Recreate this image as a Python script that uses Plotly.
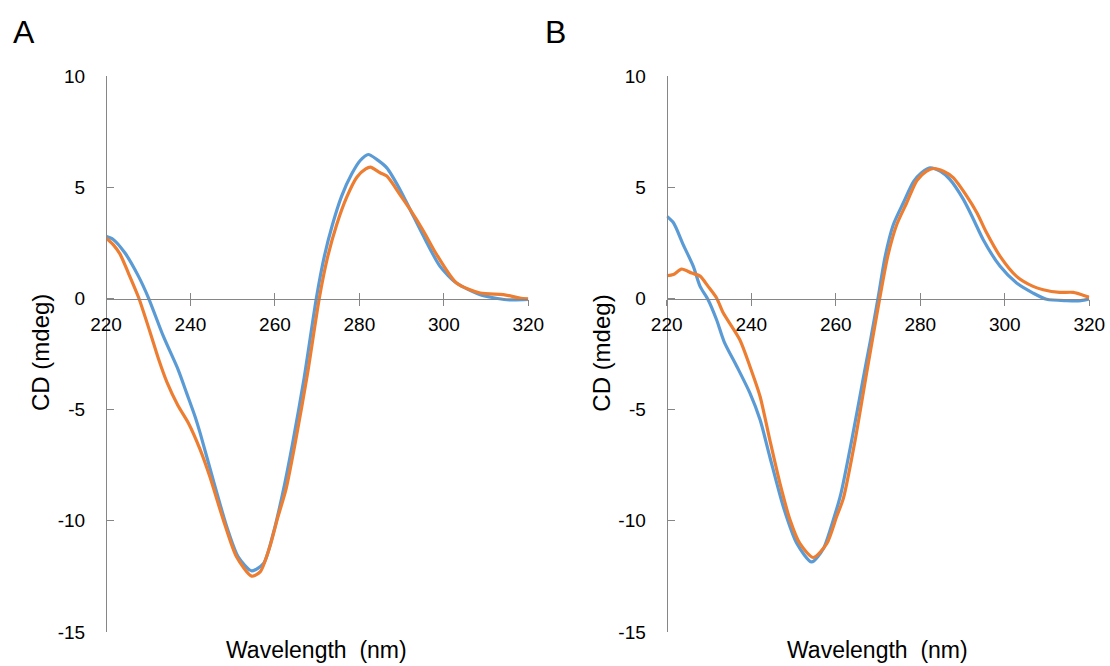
import plotly.graph_objects as go

# ---------------- data ----------------
a_blue_x = [220, 221.7, 224.5, 227.7, 230, 233.6, 237.1, 239.1, 241.1, 242.3, 245.4, 248.6, 251.3,
            254.5, 257.3, 259.6, 261.8, 264.2, 266.9, 269.8, 271.7, 273.6, 275.8, 278.2, 280.2,
            282.1, 284.1, 286.5, 289.6, 292, 295.2, 299.1, 303, 308.6, 314.9, 320]
a_blue_y = [2.79, 2.65, 2.04, 0.99, 0.05, -1.71, -3.21, -4.26, -5.32, -6.06, -8.17, -10.27, -11.62,
            -12.25, -11.92, -10.57, -8.8, -6.5, -3.6, 0, 1.89, 3.3, 4.6, 5.6, 6.2,
            6.47, 6.25, 5.87, 4.9, 4.0, 2.79, 1.44, 0.69, 0.17, -0.06, -0.05]

a_orange_x = [220, 221.7, 223.3, 225.3, 227.7, 230.4, 232.4, 234.4, 237.0, 239.5, 242.3, 244.6,
              247.8, 250.9, 254.5, 256.5, 258.8, 260.6, 262.6, 265, 267.7, 270.5, 272.4, 274.6,
              277, 279.4, 281.5, 282.6, 284.9, 286.5, 289.6, 292, 295.2, 298.3, 303, 308.6,
              314.1, 318, 320]
a_orange_y = [2.72, 2.42, 2.0, 1.14, 0.05, -1.5, -2.7, -3.75, -4.8, -5.6, -6.8, -8.02,
              -9.97, -11.62, -12.49, -12.3, -11.17, -9.9, -8.6, -6.3, -3.4, 0, 1.8, 3.3,
              4.55, 5.45, 5.82, 5.9, 5.65, 5.5, 4.67, 4.0, 3.02, 1.97, 0.69, 0.24,
              0.17, 0.02, -0.02]

b_blue_x = [220, 221.6, 223.9, 226.3, 227.9, 229.8, 231.8, 233.6, 236.6, 239.7, 242.1, 244.4, 247.6,
            250.8, 254.3, 257.1, 259.4, 261.2, 263.8, 266.5, 268.3, 270.0, 271.7, 273.6, 276,
            278.4, 280.3, 282.3, 284.7, 287, 290.2, 292.6, 294.9, 298.9, 302.8, 306.7, 309.9,
            314.6, 318, 320]
b_blue_y = [3.69, 3.4, 2.42, 1.44, 0.54, -0.06, -0.96, -1.95, -3.06, -4.26, -5.46, -7.12, -9.37,
            -11.02, -11.85, -11.24, -9.97, -8.8, -6.36, -3.6, -1.8, 0, 1.89, 3.3, 4.3,
            5.25, 5.65, 5.87, 5.72, 5.35, 4.45, 3.55, 2.64, 1.44, 0.69, 0.24, -0.04,
            -0.1, -0.1, -0.02]

b_orange_x = [220, 221.6, 223.5, 225.9, 227.9, 229.8, 231.8, 233.4, 237.3, 239.7, 242.1, 244.4, 246.8,
              249.2, 251.5, 254.7, 257.9, 260.2, 261.8, 264.6, 267.3, 270.4, 272.3, 274.4, 276.8,
              279.2, 281.5, 283.1, 285.5, 287.8, 291, 293.4, 295.7, 298.9, 302.8, 306.7, 309.1,
              313, 316.2, 319.4, 320]
b_orange_y = [1.02, 1.07, 1.32, 1.14, 1.0, 0.54, 0.02, -0.66, -1.86, -3.06, -4.41, -6.36, -8.32,
              -9.97, -11.02, -11.65, -11.02, -9.82, -8.99, -6.36, -3.36, 0, 1.89, 3.3, 4.3,
              5.3, 5.72, 5.84, 5.72, 5.43, 4.6, 3.85, 2.95, 1.89, 0.99, 0.54, 0.39,
              0.27, 0.27, 0.09, 0.05]

x_ticks = [220, 240, 260, 280, 300, 320]
y_ticks = [-15, -10, -5, 0, 5, 10]
panel_labels = ["A", "B"]
x_title = "Wavelength  (nm)"
y_title = "CD (mdeg)"

# ---------------- styling ----------------
W, H = 1110, 666
BLUE = "#5B9BD5"
ORANGE = "#ED7D31"
AXC = "#868686"
FONT = "Liberation Sans, Arial, sans-serif"

def px(xp):
    return xp / W

def py(yp):
    return 1 - yp / H

y_dom = [py(632), py(76)]
x0_pos = py(298.7)
domA = [px(106), px(528.3)]
domB = [px(666.7), px(1089.3)]

fig = go.Figure()

def add_line(x, y, color, xa, ya):
    fig.add_trace(go.Scatter(x=x, y=y, mode="lines", xaxis=xa, yaxis=ya,
                             line=dict(color=color, width=3.2, shape="spline", smoothing=0.7),
                             showlegend=False, hoverinfo="skip"))

add_line(a_blue_x, a_blue_y, BLUE, "x", "y")
add_line(a_orange_x, a_orange_y, ORANGE, "x", "y")
add_line(b_blue_x, b_blue_y, BLUE, "x2", "y2")
add_line(b_orange_x, b_orange_y, ORANGE, "x2", "y2")
# empty traces to create the overlay axes carrying the upward tick halves
fig.add_trace(go.Scatter(x=[], y=[], xaxis="x3", yaxis="y", showlegend=False, hoverinfo="skip"))
fig.add_trace(go.Scatter(x=[], y=[], xaxis="x4", yaxis="y2", showlegend=False, hoverinfo="skip"))

tickfont = dict(family=FONT, size=19, color="#000000")

def xaxis(dom, labels=True, ticks="outside", overlay=None):
    d = dict(domain=dom, range=[220, 320], tickmode="array", tickvals=x_ticks,
             ticktext=[str(t) for t in x_ticks], showgrid=False, zeroline=False,
             anchor="free", position=x0_pos, ticks=ticks, ticklen=6, tickcolor=AXC,
             tickwidth=1.2, showline=labels, linecolor=AXC, linewidth=1.2,
             showticklabels=labels, tickfont=tickfont, ticklabelstandoff=2,
             automargin=False, fixedrange=True)
    if overlay:
        d["overlaying"] = overlay
    return d

def yaxis(dom_x):
    return dict(domain=y_dom, range=[-15, 10], tickmode="array", tickvals=y_ticks,
                ticktext=[str(t) for t in y_ticks], showgrid=False, zeroline=False,
                anchor="free", position=dom_x[0], ticks="inside", ticklen=7, tickcolor=AXC,
                tickwidth=1.2, showline=True, linecolor=AXC, linewidth=1.2,
                tickfont=tickfont, ticklabelstandoff=17, automargin=False, fixedrange=True)

fig.update_layout(
    width=W, height=H, margin=dict(l=0, r=0, t=0, b=0, pad=0, autoexpand=False),
    paper_bgcolor="white", plot_bgcolor="white", showlegend=False,
    xaxis=xaxis(domA), yaxis=yaxis(domA),
    xaxis2=xaxis(domB), yaxis2=yaxis(domB),
    xaxis3=xaxis(domA, labels=False, ticks="inside", overlay="x"),
    xaxis4=xaxis(domB, labels=False, ticks="inside", overlay="x2"),
)

ann = []
for i, off in enumerate([0, 560.7]):
    ann.append(dict(text=y_title, x=px(40 + off), y=py(353), xref="paper", yref="paper",
                    showarrow=False, textangle=-90, xanchor="center", yanchor="middle",
                    font=dict(family=FONT, size=24, color="#000000")))
    ann.append(dict(text=x_title, x=px(316.7 + off), y=py(650), xref="paper", yref="paper",
                    showarrow=False, xanchor="center", yanchor="middle",
                    font=dict(family=FONT, size=23, color="#000000")))
for lab, cx in zip(panel_labels, [24, 555]):
    ann.append(dict(text=lab, x=px(cx), y=py(32), xref="paper", yref="paper",
                    showarrow=False, xanchor="center", yanchor="middle",
                    font=dict(family=FONT, size=32, color="#000000")))
fig.update_layout(annotations=ann)

fig.write_html("out.html")
